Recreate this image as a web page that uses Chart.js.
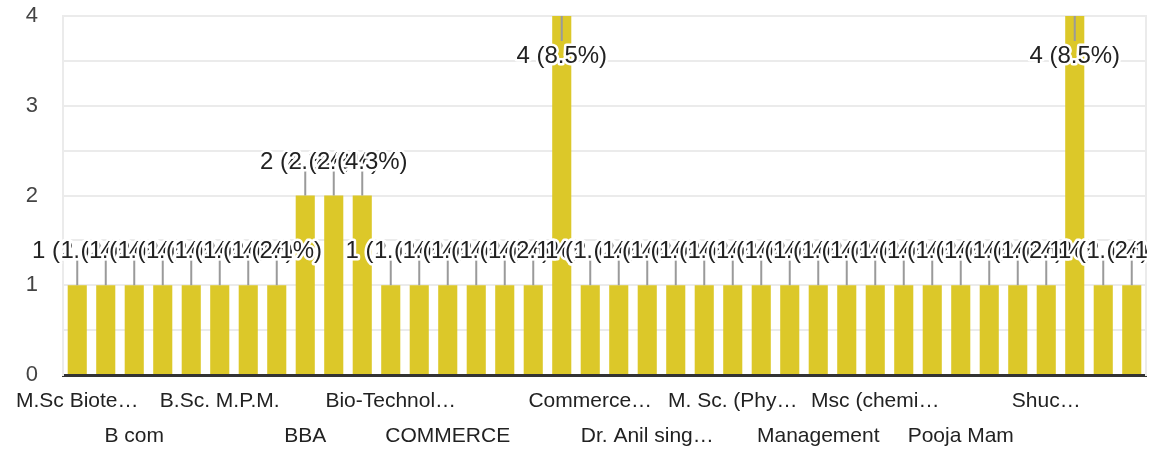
<!DOCTYPE html>
<html>
<head>
<meta charset="utf-8">
<style>
    html, body { margin: 0; padding: 0; background: #fff; }
    #wrap { width: 1157px; height: 450px; position: relative; }
</style>
<script src="https://cdn.jsdelivr.net/npm/chart.js@4.4.1/dist/chart.umd.min.js"></script>
</head>
<body>
<div id="wrap"><canvas id="chart"></canvas></div>
<script>
// 分类（已按图中显示截断）
const categories = [
    'M.Sc Biote…', 'B Com', 'B com', 'B.Com', 'B.Sc', 'B.Sc. M.P.M.', 'B.Tech', 'BA',
    'BBA', 'BCA', 'BSc', 'Bio-Technol…', 'Biotechnology', 'COMMERCE', 'Chemistry', 'Civil',
    'Com', 'Commerce', 'Commerce…', 'Computer Science', 'Dr. Anil sing…', 'Economics', 'English',
    'M. Sc. (Phy…', 'M.A.', 'MBA', 'Management', 'Mathematics', 'Msc (chemi…', 'Msc Physics',
    'Physics', 'Pooja Mam', 'Psychology', 'Science', 'Shuc…', 'Student', 'Zoology', 'commerce'
];

// 每个分类的回答数
const counts = [
    1, 1, 1, 1, 1, 1, 1, 1,
    2, 2, 2, 1, 1, 1, 1, 1,
    1, 4, 1, 1, 1, 1, 1,
    1, 1, 1, 1, 1, 1, 1,
    1, 1, 1, 1, 1, 4, 1, 1
];

// 坐标轴
const yTicks = [0, 1, 2, 3, 4];
const shownTicks = [0, 2, 5, 8, 11, 13, 18, 20, 23, 26, 28, 31, 34];

const BAR_COLOR = '#dcc829';
const FONT = '"Liberation Sans", Arial, sans-serif';

// 柱顶标签：引线 + 白色描边文字
const barLabels = {
    id: 'barLabels',
    afterDatasetsDraw(chart) {
        const { ctx, chartArea } = chart;
        const meta = chart.getDatasetMeta(0);
        const total = counts.reduce((a, b) => a + b, 0);

        ctx.save();
        // 右侧超出绘图区的部分被裁掉
        ctx.beginPath();
        ctx.rect(0, 0, chartArea.right + 1, chart.height);
        ctx.clip();

        ctx.font = '24px ' + FONT;
        ctx.textAlign = 'center';
        ctx.textBaseline = 'alphabetic';
        ctx.lineJoin = 'round';

        meta.data.forEach((bar, i) => {
            const v = counts[i];
            const text = `${v} (${(v / total * 100).toFixed(1)}%)`;
            const inside = bar.y - 45 < chartArea.top;
            const lineEnd = inside ? bar.y + 25 : bar.y - 25;
            const baseY = inside ? bar.y + 47 : bar.y - 27;

            ctx.strokeStyle = '#9a9a9a';
            ctx.lineWidth = 2;
            ctx.beginPath();
            ctx.moveTo(bar.x, bar.y);
            ctx.lineTo(bar.x, lineEnd);
            ctx.stroke();

            ctx.strokeStyle = '#fff';
            ctx.lineWidth = 5;
            ctx.strokeText(text, bar.x, baseY);
            ctx.fillStyle = '#222';
            ctx.fillText(text, bar.x, baseY);
        });
        ctx.restore();
    }
};

new Chart(document.getElementById('chart'), {
    type: 'bar',
    data: {
        labels: categories,
        datasets: [{
            data: counts,
            backgroundColor: BAR_COLOR,
            borderWidth: 0,
            categoryPercentage: 1,
            barPercentage: 0.67
        }]
    },
    options: {
        responsive: true,
        maintainAspectRatio: false,
        animation: false,
        layout: { padding: { top: 16, right: 11, left: 0, bottom: 0 } },
        plugins: {
            legend: { display: false },
            tooltip: { enabled: false }
        },
        scales: {
            x: {
                z: 1,
                grid: { display: false, drawTicks: false },
                border: { color: '#333', width: 3 },
                ticks: {
                    autoSkip: false,
                    maxRotation: 0,
                    minRotation: 0,
                    padding: 9,
                    color: '#222',
                    font: { family: FONT, size: 21, lineHeight: 1.65 },
                    callback: (value, index) => {
                        const pos = shownTicks.indexOf(index);
                        if (pos < 0) return '';
                        return pos % 2 === 0 ? categories[index] : ['', categories[index]];
                    }
                },
                afterFit: (scale) => { scale.height = 75; }
            },
            y: {
                min: yTicks[0],
                max: yTicks[yTicks.length - 1],
                grid: { color: '#ebebeb', lineWidth: 2, drawTicks: false },
                border: { color: '#ebebeb', width: 2 },
                ticks: {
                    stepSize: 0.5,
                    padding: 25,
                    color: '#444',
                    font: { family: FONT, size: 22 },
                    callback: (v) => yTicks.includes(v) ? v : ''
                },
                afterFit: (scale) => {
                    scale.width = 63;
                    scale.paddingTop = 12;
                    scale.paddingBottom = 12;
                }
            },
            y2: {
                position: 'right',
                min: yTicks[0],
                max: yTicks[yTicks.length - 1],
                grid: { display: false, drawTicks: false },
                border: { color: '#ebebeb', width: 2 },
                ticks: { display: false },
                afterFit: (scale) => { scale.width = 0; }
            }
        }
    },
    plugins: [barLabels]
});
</script>
</body>
</html>
